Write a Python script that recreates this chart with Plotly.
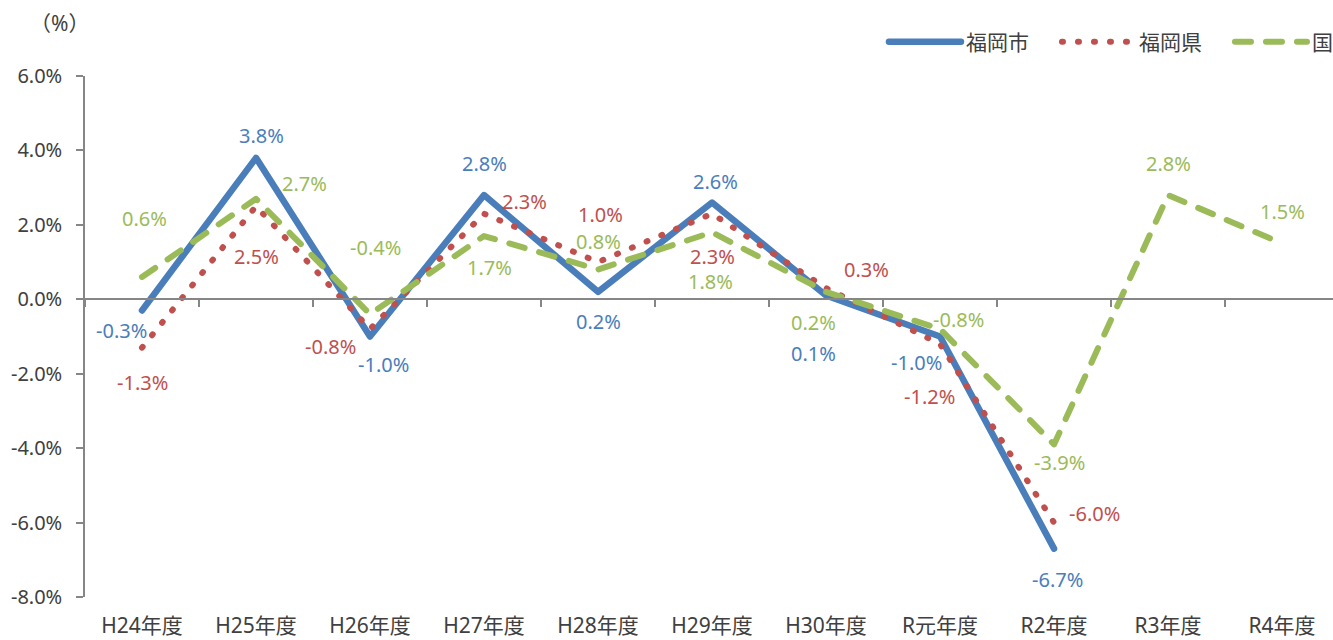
import plotly.graph_objects as go

categories = ["H24年度", "H25年度", "H26年度", "H27年度", "H28年度", "H29年度",
              "H30年度", "R元年度", "R2年度", "R3年度", "R4年度"]
city = [-0.3, 3.8, -1.0, 2.8, 0.2, 2.6, 0.1, -1.0, -6.7]
pref = [-1.3, 2.5, -0.8, 2.3, 1.0, 2.3, 0.3, -1.2, -6.0]
nation = [0.6, 2.7, -0.4, 1.7, 0.8, 1.8, 0.2, -0.8, -3.9, 2.8, 1.5]
y_ticks = [-8, -6, -4, -2, 0, 2, 4, 6]
y_tick_labels = [f"{v:.1f}%" for v in y_ticks]

BLUE = "#4A7EBB"
RED = "#C0504D"
GREEN = "#9BBB59"
TXT = "#404040"
AX = "#868686"
FONT = "Noto Sans, Noto Sans CJK JP"

# label offsets (px) for each data label
city_off = [(-21, -20), (5, 22), (13, -28), (0, 32), (0, -30), (3, 21), (-13, -58), (-24, -26), (3, -31)]
pref_off = [(0, -35), (0, -50), (-40, -17), (40, 12), (2, 48), (0, -43), (40, 19), (-11, -53), (40, 9)]
nat_off = [(2, 58), (48, 15), (5, 67), (5, -31), (0, 28), (-2, -49), (-13, -31), (18, 10), (5, -18), (0, 32), (0, 32)]

fig = go.Figure()
fig.add_trace(go.Scatter(x=categories[:len(city)], y=city, name="福岡市", mode="lines",
                         line=dict(color=BLUE, width=6.5)))
fig.add_trace(go.Scatter(x=categories[:len(pref)], y=pref, name="福岡県", mode="lines",
                         line=dict(color=RED, width=6, dash="1px,15px")))
fig.add_trace(go.Scatter(x=categories, y=nation, name="国", mode="lines",
                         line=dict(color=GREEN, width=6, dash="16px,15px")))
# dummy trace for zero-line axis
fig.add_trace(go.Scatter(x=categories, y=[None] * len(categories), xaxis="x2",
                         showlegend=False, hoverinfo="skip"))

ann = []
for series, offs, col in [(city, city_off, BLUE), (pref, pref_off, RED), (nation, nat_off, GREEN)]:
    for i, v in enumerate(series):
        ann.append(dict(x=categories[i], y=v, xref="x", yref="y", text=f"{v:.1f}%",
                        showarrow=False, xshift=offs[i][0], yshift=offs[i][1],
                        font=dict(family=FONT, size=20, color=col)))
ann.append(dict(x=-0.046, y=1.1017, xref="paper", yref="paper", text="（%）", showarrow=False,
                xanchor="left", yanchor="middle", font=dict(family=FONT, size=21, color=TXT)))

fig.update_layout(
    width=1333, height=640, autosize=False,
    margin=dict(l=85, r=0, t=76, b=43, autoexpand=False),
    paper_bgcolor="white", plot_bgcolor="white",
    font=dict(family=FONT, color=TXT),
    showlegend=True,
    legend=dict(orientation="h", x=0.6402, xanchor="left", y=1.065, yanchor="middle",
                font=dict(family=FONT, size=21, color=TXT), itemwidth=72,
                entrywidth=86, entrywidthmode="pixels",
                bgcolor="rgba(0,0,0,0)"),
    annotations=ann,
    xaxis=dict(type="category", categoryorder="array", categoryarray=categories,
               range=[-0.5, 10.447], showline=False, showgrid=False, zeroline=False,
               ticks="", tickfont=dict(family=FONT, size=21, color=TXT),
               ticklabelstandoff=14),
    xaxis2=dict(type="category", categoryorder="array", categoryarray=categories,
                overlaying="x", matches="x", anchor="free", position=8 / 14,
                showline=True, linecolor=AX, linewidth=1.5, ticks="outside",
                tickson="boundaries", ticklen=7, tickcolor=AX, tickwidth=1.5,
                showticklabels=False, showgrid=False, zeroline=False),
    yaxis=dict(range=[-8, 6], tickmode="array", tickvals=y_ticks, ticktext=y_tick_labels,
               showline=True, linecolor=AX, linewidth=1.5, ticks="outside", ticklen=7,
               tickcolor=AX, tickwidth=1.5, showgrid=False, zeroline=False,
               tickfont=dict(family=FONT, size=20, color=TXT), ticklabelstandoff=10),
)

post = """
document.body.style.margin='0';
document.body.style.overflow='hidden';
document.querySelectorAll('path.js-line').forEach(function(p){
  p.style.strokeLinecap='round'; p.style.strokeLinejoin='round';
});
"""
fig.write_html("out.html", post_script=post, config={"displayModeBar": False})
